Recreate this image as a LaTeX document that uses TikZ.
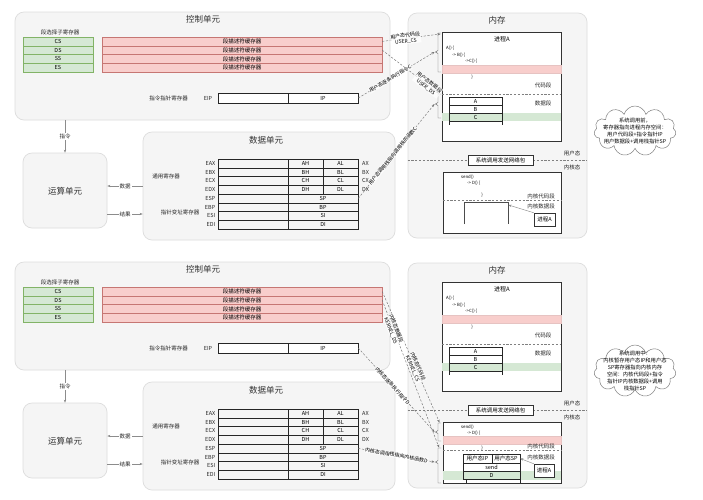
\documentclass[tikz,border=0pt]{standalone}
\usepackage{fontspec}
\setmainfont{Noto Sans CJK SC}
\usetikzlibrary{arrows.meta,shapes.symbols}
\definecolor{gfill}{HTML}{D5E8D4}
\definecolor{gline}{HTML}{82B366}
\definecolor{rfill}{HTML}{F8CECC}
\definecolor{rline}{HTML}{B85450}
\definecolor{pfill}{HTML}{F5F5F5}
\definecolor{pline}{HTML}{DDDDDD}
\tikzset{
  panel/.style={draw=pline, fill=pfill, rounded corners=9pt, line width=0.7pt, inner sep=0pt},
  ttl/.style={font=\fontsize{8.5}{10}\selectfont, text=black!80, inner sep=0pt},
  sm/.style={font=\fontsize{5.5}{6.5}\selectfont, inner sep=0pt, text=black!85},
  tinytxt/.style={font=\fontsize{4.3}{5}\selectfont, inner sep=0pt},
  grnrow/.style={draw=gline, fill=gfill, minimum width=70pt, minimum height=8.75pt, inner sep=0pt, font=\fontsize{5.5}{6}\selectfont},
  redrow/.style={draw=rline!80, fill=rfill, minimum width=280pt, minimum height=8.75pt, inner sep=0pt, font=\fontsize{5.5}{6}\selectfont},
  cell/.style={draw=black!85, line width=0.5pt, minimum height=8.75pt, inner sep=0pt, font=\fontsize{5.5}{6}\selectfont},
  box/.style={draw=black!80, fill=white, line width=0.5pt, inner sep=0pt},
  conn/.style={draw=black!55, line width=0.45pt, dash pattern=on 2.2pt off 1.6pt, -{Stealth[length=3pt,width=2.4pt]}},
  flow/.style={draw=black!45, line width=0.45pt, -{Stealth[length=3pt,width=2.4pt]}},
  lbl/.style={font=\fontsize{5}{5.8}\selectfont, inner sep=0.4pt, align=center, fill=white, fill opacity=0.75, text opacity=1},
  brk/.style={draw=black!60, line width=0.45pt},
  sepline/.style={draw=black!50, line width=0.45pt, dash pattern=on 2.2pt off 1.6pt},
  cloudbox/.style={cloud, cloud puffs=11, cloud ignores aspect, draw=black!50, fill=white, line width=0.5pt, minimum width=82pt, minimum height=50pt, inner sep=0pt},
  cloudtxt/.style={font=\fontsize{5.3}{7}\selectfont, align=center, inner sep=0pt}
}
\newcommand\halfpic[1]{%
  \node[panel, minimum width=375pt, minimum height=108pt] (ctrl#1) at (202.5,66) {};
  \node[ttl] (ctrlT#1) at (203,19) {控制单元};
  \node[panel, minimum width=179pt, minimum height=225pt] (mem#1) at (497.5,125.5) {};
  \node[ttl] (memT#1) at (497,20) {内存};
  \node[panel, minimum width=252pt, minimum height=108pt] (data#1) at (269,186) {};
  \node[ttl] (dataT#1) at (266,140) {数据单元};
  \node[panel, minimum width=84pt, minimum height=75pt] (alu#1) at (65,190.5) {};
  \node[ttl] (aluT#1) at (65,191) {运算单元};
  % control unit
  \node[sm] (selT#1) at (60,32.5) {段选择子寄存器};
  \foreach \i/\s in {0/CS,1/DS,2/SS,3/ES}{
    \pgfmathsetmacro\yc{41.4+8.75*\i}
    \node[grnrow] (sel\s#1) at (58,\yc) {\s};
    \node[redrow] (desc\s#1) at (242,\yc) {段描述符缓存器};
  }
  \node[sm] (eipL#1) at (168.5,98) {指令指针寄存器};
  \node[sm] (eipN#1) at (208,98) {EIP};
  \node[cell, fill=white, minimum width=70pt, minimum height=10pt] (eipA#1) at (253,98) {};
  \node[cell, fill=white, minimum width=70pt, minimum height=10pt] (eipB#1) at (323,98) {IP};
  % flows
  \draw[flow] (ctrl#1.south -| alu#1.north) -- node[sm, fill=white, inner sep=1pt] (cmdL#1) {指令} (alu#1.north);
  \draw[flow] (data#1.west) -- node[sm, fill=white, inner sep=1pt] (datL#1) {数据} (alu#1.east |- data#1.west);
  \coordinate (res#1) at (107,214);
  \draw[flow] (alu#1.east |- res#1) -- node[sm, fill=white, inner sep=1pt] (resL#1) {结果} (data#1.west |- res#1);
  % data unit
  \node[sm] (genL#1) at (166,176) {通用寄存器};
  \node[sm] (ptrL#1) at (180,212) {指针变址寄存器};
  \foreach \r/\e/\h/\l/\x in {0/EAX/AH/AL/AX,1/EBX/BH/BL/BX,2/ECX/CH/CL/CX,3/EDX/DH/DL/DX}{
    \pgfmathsetmacro\yc{163.4+8.75*\r}
    \node[cell, minimum width=70pt] (ra\r#1) at (253,\yc) {};
    \node[cell, minimum width=35pt] (rb\r#1) at (305.5,\yc) {\h};
    \node[cell, minimum width=35pt] (rc\r#1) at (340.5,\yc) {\l};
    \node[sm, anchor=east] (re\r#1) at (215.5,\yc) {\e};
    \node[sm, anchor=west] (rx\r#1) at (362,\yc) {\x};
  }
  \foreach \r/\e/\h in {4/ESP/SP,5/EBP/BP,6/ESI/SI,7/EDI/DI}{
    \pgfmathsetmacro\yc{163.4+8.75*\r}
    \node[cell, minimum width=70pt] (ra\r#1) at (253,\yc) {};
    \node[cell, minimum width=70pt] (rb\r#1) at (323,\yc) {\h};
    \node[sm, anchor=east] (re\r#1) at (215.5,\yc) {\e};
  }
  % memory: user process
  \node[box, minimum width=119pt, minimum height=109pt] (proc#1) at (501.5,86.5) {};
  \node[font=\fontsize{6}{7}\selectfont, inner sep=0pt] (procT#1) at (502,39) {进程A};
  \node[tinytxt, anchor=west] (cA#1) at (446,48.5) {A() \{};
  \node[tinytxt, anchor=west] (cB#1) at (452,55) {-> B() \{};
  \node[tinytxt, anchor=west] (cC#1) at (465,61.5) {->C() \{};
  \node[fill=rfill, draw=rline!35, minimum width=119pt, minimum height=8pt, inner sep=0pt] (pband#1) at (501.5,69) {};
  \node[tinytxt] (cE#1) at (472,77.5) {\}};
  \node[sm] (codeL#1) at (543,85) {代码段};
  \draw[sepline] (proc#1.west |- 0,94) -- (proc#1.east |- 0,94);
  \node[sm] (dataL#1) at (543,103) {数据段};
  \node[fill=gfill, minimum width=119pt, minimum height=8.5pt, inner sep=0pt] (gband#1) at (501.5,116.8) {};
  \node[cell, minimum width=53pt, minimum height=8pt] (vA#1) at (475.5,101) {A};
  \node[cell, minimum width=53pt, minimum height=8pt] (vB#1) at (475.5,109) {B};
  \node[cell, minimum width=53pt, minimum height=8pt] (vC#1) at (475.5,117) {C};
  \draw[black!85, line width=0.5pt] (vC#1.south west) -- ++(0,4) (vC#1.south east) -- ++(0,4);
  % system call
  \draw[sepline] (mem#1.west |- 0,160) -- (mem#1.east |- 0,160);
  \node[box, minimum width=65pt, minimum height=10pt, font=\fontsize{5.5}{6}\selectfont] (sys#1) at (500.5,160) {系统调用发送网络包};
  \node[sm] (usrL#1) at (572,153) {用户态};
  \node[sm] (kerL#1) at (572,167) {内核态};
  % kernel box
  \node[box, minimum width=118pt, minimum height=61pt] (kern#1) at (502,202.5) {};
}
\begin{document}
\begin{tikzpicture}[x=1pt, y=-1pt]
\useasboundingbox (0,0) rectangle (703,499);
\fill[white] (0,0) rectangle (703,499);
% ================= top half =================
\halfpic{t}
\draw[brk] (441,33) -- (438,33) -- (438,50.5) -- (435.5,52) -- (438,53.5) -- (438,72) -- (441,72);
\draw[brk] (441,94) -- (438,94) -- (438,102.5) -- (435.5,104) -- (438,105.5) -- (438,118) -- (441,118);
\coordinate (ucs) at (440.5,34);
\coordinate (ucode) at (434.5,52);
\coordinate (uds) at (439,93.5);
\coordinate (udata) at (434.5,104);
\draw[conn] (descCSt.east) -- node[lbl, sloped, pos=0.4] (lucs) {用户态代码段\\USER\_CS} (ucs);
\draw[conn] (descDSt.east) -- node[lbl, sloped, pos=0.8] (luds) {用户态数据段\\USER\_DS} (uds);
\draw[conn] (eipBt.east) -- node[lbl, sloped, pos=0.42] (luip) {用户态逐条执行指令C} (ucode);
\draw[conn] (rb4t.east) -- node[lbl, sloped, pos=0.45] (lusp) {用户态调用栈指向调用栈的函数C} (udata);
% kernel content (top)
\node[tinytxt, anchor=west] (ksendt) at (461,177) {send()};
\node[tinytxt, anchor=west] (kdt) at (467,183.5) {-> D() \{};
\node[tinytxt] (kendt) at (482,195) {\}};
\node[sm] (kcodet) at (541,196) {内核代码段};
\draw[sepline] (kernt.west |- 0,200) -- (kernt.east |- 0,200);
\node[sm] (kdatat) at (541,206) {内核数据段};
\draw[black!70, line width=0.5pt] (464,224) -- (464,202) -- (508,202) -- (508,224);
\coordinate (stkt) at (508.5,205);
\node[box, minimum width=21pt, minimum height=13pt, font=\fontsize{5.5}{6}\selectfont] (kpat) at (544.5,219.5) {进程A};
\draw[flow] (kpat.north west) -- (stkt);
% cloud top
\node[cloudbox] (cloudt) at (635,131) {};
\node[cloudtxt] (cloudtxtt) at (635,131) {系统调用前，\\寄存器指向进程内存空间：\\用户代码段+指令指针IP\\用户数据段+调用栈指针SP};
% ================= bottom half =================
\begin{scope}[shift={(0,250)}]
\halfpic{b}
\node[tinytxt, anchor=west] (ksendb) at (461,177) {send()};
\node[tinytxt, anchor=west] (kdb) at (467,183) {-> D() \{};
\node[fill=rfill, draw=rline!35, minimum width=118pt, minimum height=8pt, inner sep=0pt] (kbandb) at (502,190) {};
\node[tinytxt] (kendb) at (482,198) {\}};
\node[sm] (kcodeb) at (541,196) {内核代码段};
\draw[sepline] (kernb.west |- 0,200) -- (kernb.east |- 0,200);
\node[sm] (kdatab) at (541,207) {内核数据段};
\node[fill=gfill, minimum width=118pt, minimum height=9pt, inner sep=0pt] (kgband) at (502,225.5) {};
\node[cell, fill=white, minimum width=29pt, minimum height=9pt] (uipb) at (477.5,208.5) {用户态IP};
\node[cell, fill=white, minimum width=28pt, minimum height=9pt] (uspb) at (506,208.5) {用户态SP};
\node[cell, fill=white, minimum width=57pt, minimum height=8pt] (sendb) at (491.5,217) {send};
\node[cell, minimum width=57pt, minimum height=8pt] (dfb) at (491.5,225) {D};
\draw[black!85, line width=0.5pt] (466,229) -- (466,233) (dfb.south east) -- (dfb.south east |- 0,233);
\node[box, minimum width=20pt, minimum height=13pt, font=\fontsize{5.5}{6}\selectfont] (kpab) at (544,220.5) {进程A};
\draw[flow] (kpab.north west) -- (uspb.east);
\draw[brk] (441,173) -- (438,173) -- (438,180.5) -- (435.5,182) -- (438,183.5) -- (438,191) -- (441,191);
\draw[brk] (441,198) -- (438,198) -- (438,210.5) -- (435.5,212) -- (438,213.5) -- (438,233) -- (441,233);
\coordinate (kcs) at (439.5,172.5);
\coordinate (kcode) at (434.5,182);
\coordinate (kds) at (439,197.5);
\coordinate (kdata) at (434.5,212);
\draw[conn] (descCSb.east) -- node[lbl, sloped, pos=0.58] (lkcs) {内核态代码段\\KERNEL\_CS} (kcs);
\draw[conn] (descDSb.east) -- node[lbl, sloped, pos=0.2] (lkds) {内核态数据段\\KERNEL\_DS} (kds);
\draw[conn] (eipBb.east) -- node[lbl, sloped, pos=0.45] (lkip) {内核态逐条执行指令D} (kcode);
\draw[conn] (rb4b.east) -- node[lbl, sloped] (lksp) {内核态调用栈指向内核函数D} (kdata);
\node[cloudbox, minimum height=52pt] (cloudb) at (635,121) {};
\node[cloudtxt] (cloudtxtb) at (635,121) {系统调用中：\\内核暂存用户态IP和用户态\\SP寄存器指向内核内存\\空间：内核代码段+指令\\指针IP内核数据段+调用\\栈指针SP};
\end{scope}
\end{tikzpicture}
\end{document}
